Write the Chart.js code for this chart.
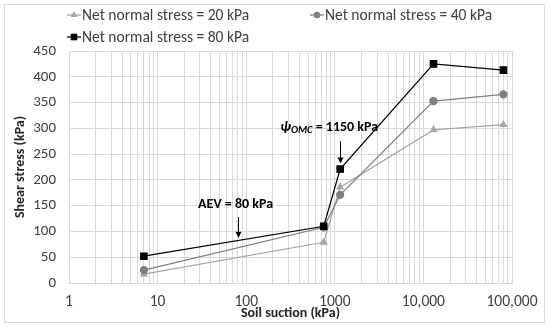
<!DOCTYPE html>
<html>
<head>
<meta charset="utf-8">
<script src="https://cdn.jsdelivr.net/npm/chart.js@4"></script>
<style>
  html, body { margin: 0; padding: 0; background: #fff; }
  #wrap { width: 550px; height: 329px; }
</style>
</head>
<body>
<div id="wrap"><canvas id="shearChart" width="550" height="329"></canvas></div>
<script>
// ---------------- DATA ----------------
const suction = [7, 750, 1150, 13000, 80000];           // kPa
const stress20 = [17, 79, 186, 297, 307];                // kPa
const stress40 = [25, 108, 171, 353, 366];
const stress80 = [52, 110, 221, 425, 413];
const seriesNames = ["Net normal stress = 20 kPa", "Net normal stress = 40 kPa", "Net normal stress = 80 kPa"];

const xMajorTicks = [1, 10, 100, 1000, 10000, 100000];
const xTickLabels = ["1", "10", "100", "1000", "10,000", "100,000"];

// annotations: label, suction value, arrow top / tip (stress), text stress
const aevNote = { label: "AEV = 80 kPa", x: 80, from: 128, to: 88, textY: 152 };
const omcNote = { x: 1150, from: 275, to: 232, textY: 301 };

const FONT = "Carlito, Lato, 'Liberation Sans', sans-serif";

function pts(ys) {
  return suction.map((x, i) => ({ x: x, y: ys[i] }));
}

// ---------------- PLUGIN: border, legend, notes ----------------
const extras = {
  id: "extras",
  beforeDraw(chart) {
    const ctx = chart.ctx;
    ctx.save();
    ctx.strokeStyle = "#d9d9d9";
    ctx.lineWidth = 1;
    ctx.strokeRect(4.5, 4.5, 540, 318);
    ctx.restore();
  },
  afterDraw(chart) {
    const ctx = chart.ctx;
    const xs = chart.scales.x, ys = chart.scales.y;

    // legend
    const items = [
      { ds: 0, x: 67, y: 15 },
      { ds: 1, x: 310, y: 15 },
      { ds: 2, x: 67, y: 37 },
    ];
    ctx.save();
    items.forEach(it => {
      const d = chart.data.datasets[it.ds];
      ctx.strokeStyle = d.borderColor;
      ctx.lineWidth = d.borderWidth;
      ctx.beginPath();
      ctx.moveTo(it.x, it.y);
      ctx.lineTo(it.x + 14, it.y);
      ctx.stroke();
      ctx.fillStyle = d.pointBackgroundColor;
      ctx.strokeStyle = d.pointBorderColor;
      ctx.lineWidth = 1;
      Chart.helpers.drawPoint(ctx, {
        pointStyle: d.pointStyle, radius: d.pointRadius - 0.5, borderWidth: 1
      }, it.x + 7, it.y);
      ctx.fillStyle = "#404040";
      ctx.font = "15.5px " + FONT;
      ctx.textBaseline = "middle";
      ctx.textAlign = "left";
      ctx.fillText(seriesNames[it.ds], it.x + 15, it.y + 1);
    });

    // arrows
    function arrow(xv, fromV, toV) {
      const px = Math.round(xs.getPixelForValue(xv)) + 0.5;
      const y1 = ys.getPixelForValue(fromV);
      const y2 = ys.getPixelForValue(toV);
      ctx.strokeStyle = "#000";
      ctx.fillStyle = "#000";
      ctx.lineWidth = 1;
      ctx.beginPath();
      ctx.moveTo(px, y1);
      ctx.lineTo(px, y2 - 5);
      ctx.stroke();
      ctx.beginPath();
      ctx.moveTo(px - 3, y2 - 6);
      ctx.lineTo(px + 3, y2 - 6);
      ctx.lineTo(px, y2);
      ctx.closePath();
      ctx.fill();
    }
    arrow(aevNote.x, aevNote.from, aevNote.to);
    arrow(omcNote.x, omcNote.from, omcNote.to);

    // AEV text
    ctx.fillStyle = "#000";
    ctx.textBaseline = "middle";
    ctx.textAlign = "center";
    ctx.font = "bold 14px " + FONT;
    ctx.fillText(aevNote.label, xs.getPixelForValue(aevNote.x) - 2, ys.getPixelForValue(aevNote.textY));

    // psi_OMC text, built from parts
    const parts = [
      { t: "\u03C8", f: "italic bold 14.5px " + FONT, dy: 0 },
      { t: "OMC", f: "italic bold 10.5px " + FONT, dy: 3 },
      { t: " = 1150 kPa", f: "bold 14px " + FONT, dy: 0 },
    ];
    let total = 0;
    parts.forEach(p => { ctx.font = p.f; p.w = ctx.measureText(p.t).width; total += p.w; });
    let tx = xs.getPixelForValue(omcNote.x) - 11 - total / 2;
    const ty = ys.getPixelForValue(omcNote.textY);
    ctx.textAlign = "left";
    parts.forEach(p => {
      ctx.font = p.f;
      ctx.fillText(p.t, tx, ty + p.dy);
      tx += p.w;
    });
    ctx.restore();
  }
};

// ---------------- CHART ----------------
const ctx = document.getElementById("shearChart").getContext("2d");

const shearChart = new Chart(ctx, {
  type: "line",
  data: {
    datasets: [
      {
        label: seriesNames[0],
        data: pts(stress20),
        borderColor: "#a6a6a6",
        borderWidth: 1.25,
        pointStyle: "triangle",
        pointRadius: 3.5,
        pointBackgroundColor: "#a6a6a6",
        pointBorderColor: "#a6a6a6",
        order: 2,
      },
      {
        label: seriesNames[1],
        data: pts(stress40),
        borderColor: "#7f7f7f",
        borderWidth: 1.25,
        pointStyle: "circle",
        pointRadius: 3.5,
        pointBackgroundColor: "#7f7f7f",
        pointBorderColor: "#7f7f7f",
        order: 1,
      },
      {
        label: seriesNames[2],
        data: pts(stress80),
        borderColor: "#000000",
        borderWidth: 1.25,
        pointStyle: "rect",
        pointRadius: 4.5,
        pointBackgroundColor: "#000000",
        pointBorderColor: "#000000",
        order: 0,
      },
    ],
  },
  options: {
    responsive: false,
    animation: false,
    events: [],
    layout: { padding: { top: 51, right: 38, bottom: 0, left: 0 } },
    plugins: {
      legend: { display: false },
      tooltip: { enabled: false },
    },
    scales: {
      x: {
        type: "logarithmic",
        min: 1,
        max: 100000,
        afterBuildTicks: (scale) => {
          const vals = [];
          for (let d = 1; d < 100000; d *= 10) {
            for (let k = 1; k < 10; k++) vals.push(d * k);
          }
          vals.push(100000);
          scale.ticks = vals.map(v => ({ value: v }));
        },
        afterFit: (scale) => { scale.height = 46; },
        grid: { color: "#d9d9d9", drawTicks: false, lineWidth: 1 },
        border: { color: "#d9d9d9" },
        ticks: {
          autoSkip: false,
          maxRotation: 0,
          padding: 10,
          color: "#404040",
          font: { family: FONT, size: 15.5 },
          callback: (v) => {
            const i = xMajorTicks.indexOf(Number(v));
            return i >= 0 ? xTickLabels[i] : "";
          },
        },
        title: {
          display: true,
          text: "Soil suction (kPa)",
          color: "#262626",
          font: { family: FONT, size: 14, weight: "bold" },
          padding: { top: 0, bottom: 7 },
        },
      },
      y: {
        min: 0,
        max: 450,
        afterFit: (scale) => { scale.width = 69; },
        grid: { color: "#d9d9d9", drawTicks: false, lineWidth: 1 },
        border: { color: "#d9d9d9" },
        ticks: {
          stepSize: 50,
          padding: 13,
          color: "#404040",
          font: { family: FONT, size: 15 },
        },
        title: {
          display: true,
          text: "Shear stress (kPa)",
          color: "#262626",
          font: { family: FONT, size: 14, weight: "bold" },
          padding: { top: 12, bottom: 0 },
        },
      },
    },
  },
  plugins: [extras],
});
</script>
</body>
</html>
